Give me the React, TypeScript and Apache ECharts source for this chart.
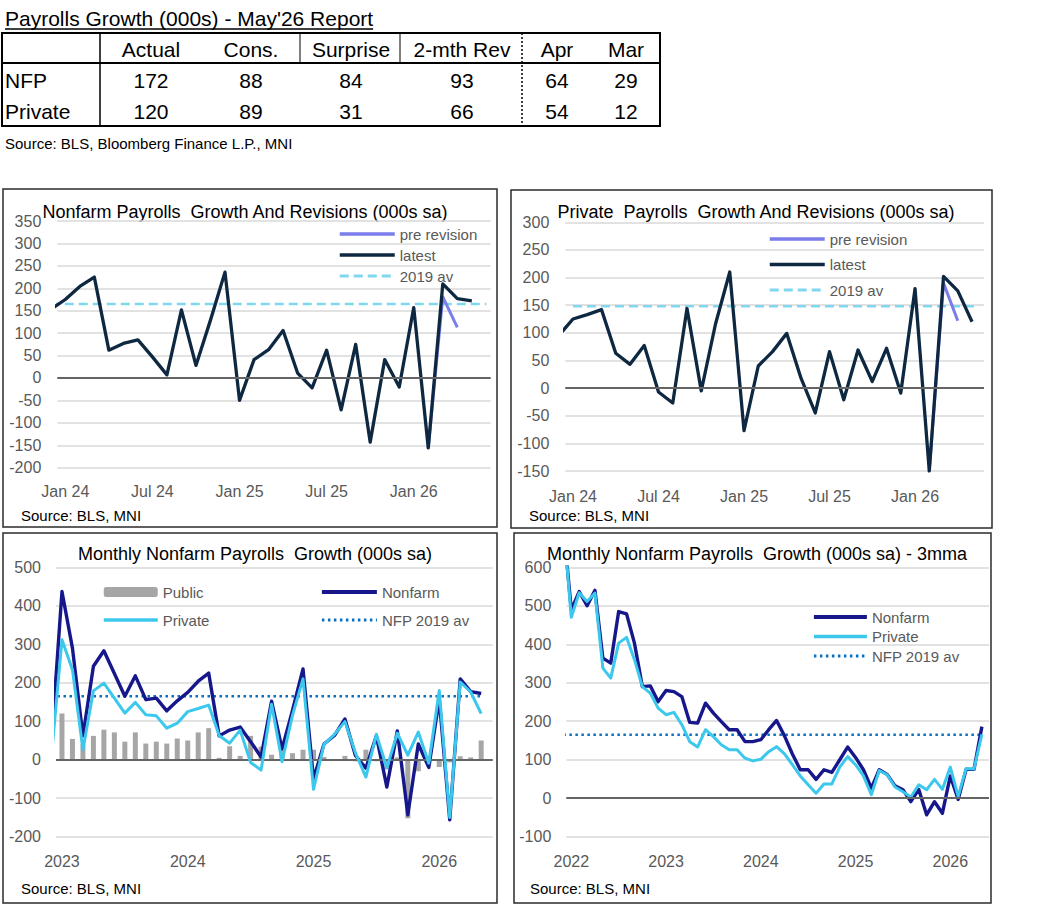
import React, { useEffect, useRef } from "react";
import * as echarts from "echarts";

const FONT = "'Liberation Sans', Arial, Helvetica, sans-serif";

// ---------------- Table ----------------
const reportTitle = "Payrolls Growth (000s) - May'26 Report";
const tableHeaders = ["Actual", "Cons.", "Surprise", "2-mth Rev", "Apr", "Mar"];
const tableRowLabels = ["NFP", "Private"];
const nfpRow = [172, 88, 84, 93, 64, 29];
const privateRow = [120, 89, 31, 66, 54, 12];
const tableSource = "Source: BLS, Bloomberg Finance L.P., MNI";

// ---------------- Chart texts ----------------
const chartTitles = [
  "Nonfarm Payrolls  Growth And Revisions (000s sa)",
  "Private  Payrolls  Growth And Revisions (000s sa)",
  "Monthly Nonfarm Payrolls  Growth (000s sa)",
  "Monthly Nonfarm Payrolls  Growth (000s sa) - 3mma",
];
const chartSource = "Source: BLS, MNI";

// ---------------- Tick labels (month index -> label) ----------------
const revisionTickMonths = [0, 6, 12, 18, 24]; // Jan 2024 = 0
const revisionTickLabels = ["Jan 24", "Jul 24", "Jan 25", "Jul 25", "Jan 26"];
const monthlyTickMonths = [0, 12, 24, 36]; // Jan 2023 = 0
const monthlyTickLabels = ["2023", "2024", "2025", "2026"];
const mmaTickMonths = [0, 12, 24, 36, 48]; // Jan 2022 = 0
const mmaTickLabels = ["2022", "2023", "2024", "2025", "2026"];

// ---------------- Data ----------------
// Monthly change, Dec 2022 .. May 2026 (000s)
const nfpMonthly = [
  49, 437, 290, 62, 243, 283, 224, 165, 218, 156, 160, 127, 153,
  175, 204, 225, 62, 77, 85, 47, 7, 152, 28, 129, 236,
  -50, 41, 63, 106, 11, -22, 62, -71, 75, -143, 41, -20,
  157, -156, 210, 177, 172,
];
const privateMonthly = [
  10, 312, 234, 26, 179, 199, 160, 121, 149, 117, 114, 82, 95,
  125, 133, 142, 63, 43, 77, -7, -27, 144, -5, 116, 210,
  -77, 40, 66, 99, 18, -45, 66, -21, 69, 12, 72, -9,
  180, -150, 202, 176, 120,
];
// Public, Jan 2023 .. May 2026
const publicMonthly = [
  120, 54, 40, 62, 78, 71, 47, 71, 42, 47, 42, 55,
  50, 71, 82, 5, 35, 10, 62, 34, 13, 33, 17, 26,
  26, 7, -3, 10, -4, 26, -4, -25, 6, -152, -30, -11,
  -19, -7, 9, 6, 50,
];
// Pre-revision prints, Feb 2026 .. Apr 2026
const nfpPreRevision = [-156, 181, 113];
const privatePreRevision = [-150, 190, 122];
// 3-month moving averages, Dec 2021 .. May 2026
const nfp3mma = [
  710, 489, 537, 500, 540, 364, 351, 485, 479, 403, 290, 292, 251,
  280, 277, 264, 197, 195, 247, 221, 199, 178, 178, 147, 147,
  152, 178, 202, 162, 115, 74, 74, 49, 74, 67, 100, 133,
  106, 74, 26, 74, 62, 32, 22, -9, 23, -43, -9, -39,
  58, -3, 75, 75, 186,
];
const private3mma = [
  720, 470, 534, 511, 533, 338, 312, 403, 418, 360, 290, 273, 234,
  217, 223, 191, 147, 133, 178, 160, 139, 126, 126, 104, 97,
  101, 121, 134, 115, 87, 58, 35, 13, 37, 37, 81, 108,
  87, 58, 9, 72, 61, 29, 17, 3, 35, 22, 49, 23,
  81, 5, 77, 76, 166,
];
const nfp2019Avg = 165;
const private2019Avg = 148;

// ---------------- Colours ----------------
const C_LATEST = "#0e2841";
const C_PREREV = "#7b7deb";
const C_AVG_DASH = "#80d8f0";
const C_NFP = "#17178c";
const C_PRIV = "#3cc8ec";
const C_AVG_DOT = "#0a70c0";
const C_PUBLIC = "#a6a6a6";
const C_LABEL = "#595959";
const C_GRID = "#d9d9d9";
const C_ZERO = "#646464";

const pairs = (vals: number[], offset: number) => vals.map((v, i) => [i + offset, v]);

const zeroLine = {
  silent: true,
  symbol: ["none", "none"],
  label: { show: false },
  lineStyle: { color: C_ZERO, width: 2, type: "solid" },
  data: [{ yAxis: 0 }],
  animation: false,
};

function xAx(gridIndex: number, min: number, max: number, ticks: number[], labels: string[], margin: number) {
  return {
    type: "value",
    gridIndex,
    min,
    max,
    axisLine: { show: false },
    axisTick: { show: false },
    splitLine: { show: false },
    axisLabel: {
      customValues: ticks,
      formatter: (v: number) => {
        const k = ticks.indexOf(Math.round(v));
        return k >= 0 ? labels[k] : "";
      },
      color: C_LABEL,
      fontSize: 16,
      fontFamily: FONT,
      margin,
    },
  };
}

function yAx(gridIndex: number, min: number, max: number, interval: number, margin: number) {
  return {
    type: "value",
    gridIndex,
    min,
    max,
    interval,
    axisLine: { show: false },
    axisTick: { show: false },
    splitLine: { show: true, lineStyle: { color: C_GRID, width: 1.5 } },
    axisLabel: { color: C_LABEL, fontSize: 16, fontFamily: FONT, margin },
  };
}

function lineSeries(name: string, idx: number, data: any[], color: string, width: number, z: number, type: any = "solid", extra: any = {}) {
  return {
    type: "line",
    name,
    xAxisIndex: idx,
    yAxisIndex: idx,
    data,
    symbol: "none",
    showSymbol: false,
    clip: true,
    silent: true,
    z,
    itemStyle: { color },
    lineStyle: { color, width, type, join: "round" },
    emphasis: { disabled: true },
    ...extra,
  };
}

// legend items: lines drawn without the centre marker; bars keep their swatch
const lineItem = (name: string, width: number) => ({ name, itemStyle: { opacity: 0 }, lineStyle: { width } });

function legend(data: any[], left: number, top: number, itemWidth: number, itemHeight: number, itemGap: number) {
  return {
    data,
    orient: "vertical",
    left,
    top,
    itemWidth,
    itemHeight,
    itemGap,
    padding: 0,
    selectedMode: false,
    textStyle: { color: C_LABEL, fontSize: 15, fontFamily: FONT },
  };
}

function txt(text: string, x: number, y: number, size: number, align = "left", color = "#000") {
  return {
    type: "text",
    x,
    y,
    silent: true,
    style: { text, fill: color, fontSize: size, fontFamily: FONT, align, verticalAlign: "middle" },
  };
}

function ln(x1: number, y1: number, x2: number, y2: number, w: number, dash?: number[]) {
  return {
    type: "line",
    silent: true,
    shape: { x1, y1, x2, y2 },
    style: { stroke: "#000", lineWidth: w, lineDash: dash },
  };
}

function measure(text: string, size: number) {
  const c = document.createElement("canvas").getContext("2d");
  if (!c) return text.length * size * 0.48;
  c.font = `${size}px ${FONT}`;
  return c.measureText(text).width;
}

function buildOption() {
  const colX = [151, 251, 351, 462, 557, 626];
  const graphic: any[] = [];
  // title + underline
  graphic.push(txt(reportTitle, 5, 18, 21));
  graphic.push(ln(5, 29, 5 + measure(reportTitle, 21), 29, 1.3));
  // table frame
  graphic.push({ type: "rect", silent: true, shape: { x: 2, y: 33, width: 658, height: 93 }, style: { fill: "none", stroke: "#000", lineWidth: 2 } });
  graphic.push(ln(2, 63, 660, 63, 2));
  graphic.push(ln(100, 33, 100, 126, 1.5));
  graphic.push(ln(300, 33, 300, 63, 1));
  graphic.push(ln(400, 33, 400, 63, 1));
  graphic.push(ln(522, 33, 522, 126, 1.5, [2, 2]));
  tableHeaders.forEach((h, i) => graphic.push(txt(h, colX[i], 49, 21, "center")));
  [nfpRow, privateRow].forEach((row, r) => {
    const y = 80 + r * 31;
    graphic.push(txt(tableRowLabels[r], 5, y, 21));
    row.forEach((v, i) => graphic.push(txt(String(v), colX[i], y, 21, "center")));
  });
  graphic.push(txt(tableSource, 5, 143, 15));

  // panel borders
  const panels = [
    [3, 189, 494, 338],
    [511, 190, 481, 338],
    [3, 533, 494, 370],
    [514, 533, 477, 370],
  ];
  panels.forEach(([x, y, w, h]) =>
    graphic.push({ type: "rect", silent: true, shape: { x, y, width: w, height: h }, style: { fill: "none", stroke: "#2b2b2b", lineWidth: 1.5 } })
  );
  // chart titles
  graphic.push(txt(chartTitles[0], 245, 212, 18, "center"));
  graphic.push(txt(chartTitles[1], 756, 212, 18, "center"));
  graphic.push(txt(chartTitles[2], 255, 554, 18, "center"));
  graphic.push(txt(chartTitles[3], 757, 554, 18, "center"));
  // sources
  graphic.push(txt(chartSource, 21, 515, 15));
  graphic.push(txt(chartSource, 529, 515, 15));
  graphic.push(txt(chartSource, 21, 888, 15));
  graphic.push(txt(chartSource, 530, 888, 15));

  const series: any[] = [
    // Chart 1: Nonfarm revisions (Jan 2024 = 0)
    lineSeries("2019 av", 0, [[-1, nfp2019Avg], [29, nfp2019Avg]], C_AVG_DASH, 2.5, 2, [9, 5], { markLine: zeroLine }),
    lineSeries("pre revision", 0, pairs(nfpPreRevision, 25), C_PREREV, 3, 3),
    lineSeries("latest", 0, pairs(nfpMonthly.slice(12), -1), C_LATEST, 3.3, 4),
    // Chart 2: Private revisions
    lineSeries("2019 av", 1, [[0, private2019Avg], [28.5, private2019Avg]], C_AVG_DASH, 2.5, 2, [9, 5], { markLine: zeroLine }),
    lineSeries("pre revision", 1, pairs(privatePreRevision, 25), C_PREREV, 3, 3),
    lineSeries("latest", 1, pairs(privateMonthly.slice(12), -1), C_LATEST, 3.3, 4),
    // Chart 3: Monthly (Jan 2023 = 0)
    {
      type: "bar",
      name: "Public",
      xAxisIndex: 2,
      yAxisIndex: 2,
      data: pairs(publicMonthly, 0),
      barWidth: 5,
      itemStyle: { color: C_PUBLIC },
      silent: true,
      z: 2,
      markLine: zeroLine,
    },
    lineSeries("NFP 2019 av", 2, [[-1, nfp2019Avg], [40, nfp2019Avg]], C_AVG_DOT, 2.5, 3, [2.5, 3.5]),
    lineSeries("Nonfarm", 2, pairs(nfpMonthly, -1), C_NFP, 3.4, 4),
    lineSeries("Private", 2, pairs(privateMonthly, -1), C_PRIV, 3, 5),
    // Chart 4: 3mma (Jan 2022 = 0)
    lineSeries("NFP 2019 av", 3, [[-1, nfp2019Avg], [52, nfp2019Avg]], C_AVG_DOT, 2.5, 2, [2.5, 3.5], { markLine: zeroLine }),
    lineSeries("Nonfarm", 3, pairs(nfp3mma, -1), C_NFP, 3.4, 3),
    lineSeries("Private", 3, pairs(private3mma, -1), C_PRIV, 3, 4),
  ];

  return {
    animation: false,
    backgroundColor: "#ffffff",
    textStyle: { fontFamily: FONT },
    grid: [
      { left: 57.3, top: 221, width: 433.4, height: 246.7 },
      { left: 565.3, top: 222.3, width: 418.7, height: 248.7 },
      { left: 56, top: 567.3, width: 436.7, height: 269.4 },
      { left: 566.3, top: 567.3, width: 422.7, height: 269.4 },
    ],
    xAxis: [
      xAx(0, -0.55, 29.3, revisionTickMonths, revisionTickLabels, 16),
      xAx(1, -0.54, 28.84, revisionTickMonths, revisionTickLabels, 17),
      xAx(2, -0.57, 41.1, monthlyTickMonths, monthlyTickLabels, 17),
      xAx(3, -0.63, 52.9, mmaTickMonths, mmaTickLabels, 17),
    ],
    yAxis: [
      yAx(0, -200, 350, 50, 16),
      yAx(1, -150, 300, 50, 16),
      yAx(2, -200, 500, 100, 15),
      yAx(3, -100, 600, 100, 15),
    ],
    legend: [
      legend([lineItem("pre revision", 3.3), lineItem("latest", 3.5), lineItem("2019 av", 2.8)], 338, 226.5, 55, 14, 6),
      legend([lineItem("pre revision", 3.3), lineItem("latest", 3.5), lineItem("2019 av", 2.8)], 768, 231.5, 55, 14, 10.5),
      legend([{ name: "Public" }, lineItem("Private", 3.5)], 102, 584.5, 54, 10, 13),
      legend([lineItem("Nonfarm", 3.8), lineItem("NFP 2019 av", 2.8)], 320, 584.5, 55, 10, 13),
      legend([lineItem("Nonfarm", 3.8), lineItem("Private", 3.5), lineItem("NFP 2019 av", 2.8)], 812, 609.5, 53, 14, 4.5),
    ],
    graphic,
    series,
  };
}

export default function App() {
  const ref = useRef<HTMLDivElement>(null);
  useEffect(() => {
    if (!ref.current) return;
    const chart = echarts.init(ref.current, null, { renderer: "svg" });
    chart.setOption(buildOption() as any);
    return () => chart.dispose();
  }, []);
  return (
    <div
      ref={ref}
      style={{ position: "absolute", left: 0, top: 0, width: 1061, height: 908, background: "#fff" }}
    />
  );
}
